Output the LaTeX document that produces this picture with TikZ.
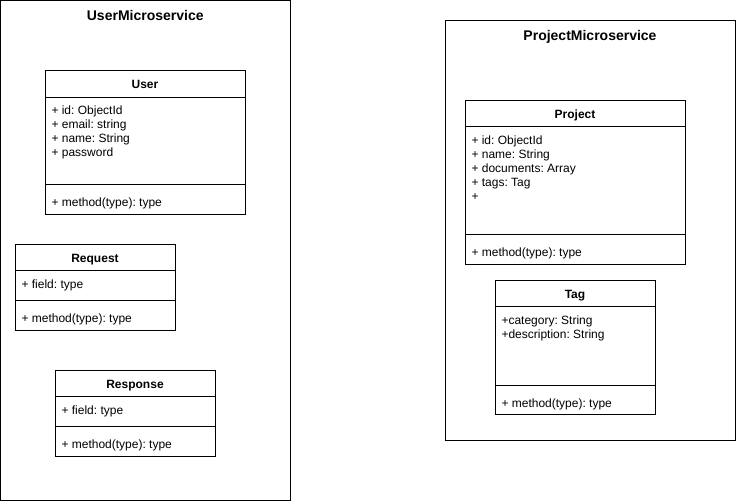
\documentclass[tikz,border=0pt]{standalone}
\usepackage{fontspec}
\setmainfont{Liberation Sans}
\usetikzlibrary{positioning}
\frenchspacing

\tikzset{every picture/.style={line width=0.75pt}}
\tikzset{
  service/.style={draw, inner sep=0pt, outer sep=0pt, anchor=north west},
  servicetitle/.style={inner sep=0pt, text height=7.6pt, text depth=2.2pt, font=\fontsize{10.5}{12}\selectfont\bfseries},
  classbox/.style={draw, inner sep=0pt, outer sep=0pt, anchor=north west, text height=9.6pt, text depth=1.9pt, font=\fontsize{9}{10.5}\selectfont\bfseries},
  compartment/.style={draw, inner sep=0pt, outer sep=0pt, below=0pt of #1},
  members/.style={anchor=north west, inner sep=0pt, align=left, font=\fontsize{9}{10.5}\selectfont},
}

\begin{document}
\begin{tikzpicture}[x=0.75pt,y=0.75pt,yscale=-1,xscale=1]
\path[use as bounding box] (0,0) rectangle (736,501);

%Shape: Rectangle [UserMicroservice]
\node[service, minimum width=217.125pt, minimum height=374.625pt] (userms) at (0.5,0.5) {};
% Text Node
\node[servicetitle] (userms title) at ([yshift=12.3pt]userms.north) {UserMicroservice};

%Shape: Class [User]
\node[classbox, minimum width=150pt, minimum height=20.25pt] (user) at (45,70) {User};
\node[compartment=user, minimum width=150pt, minimum height=65.25pt] (user attr) {};
\node[compartment=user attr, minimum width=150pt, minimum height=22.5pt] (user ops) {};
% Text Node
\node[members] (user attr text) at ([xshift=4.5pt,yshift=5.5pt]user attr.north west) {\strut+ id: ObjectId\\+ email: string\\+ name: String\\+ password};
% Text Node
\node[members] (user ops text) at ([xshift=4.5pt,yshift=9.4pt]user ops.north west) {\strut+ method(type): type};

%Shape: Class [Request]
\node[classbox, minimum width=120pt, minimum height=19.5pt] (request) at (15,244) {Request};
\node[compartment=request, minimum width=120pt, minimum height=22.5pt] (request attr) {};
\node[compartment=request attr, minimum width=120pt, minimum height=22.5pt] (request ops) {};
% Text Node
\node[members] (request attr text) at ([xshift=4.5pt,yshift=6.5pt]request attr.north west) {\strut+ field: type};
% Text Node
\node[members] (request ops text) at ([xshift=4.5pt,yshift=9.2pt]request ops.north west) {\strut+ method(type): type};

%Shape: Class [Response]
\node[classbox, minimum width=120pt, minimum height=19.5pt] (response) at (55,370) {Response};
\node[compartment=response, minimum width=120pt, minimum height=22.5pt] (response attr) {};
\node[compartment=response attr, minimum width=120pt, minimum height=22.5pt] (response ops) {};
% Text Node
\node[members] (response attr text) at ([xshift=4.5pt,yshift=6.5pt]response attr.north west) {\strut+ field: type};
% Text Node
\node[members] (response ops text) at ([xshift=4.5pt,yshift=9.2pt]response ops.north west) {\strut+ method(type): type};

%Shape: Rectangle [ProjectMicroservice]
\node[service, minimum width=217.5pt, minimum height=315pt] (projectms) at (445,20) {};
% Text Node
\node[servicetitle] (projectms title) at ([yshift=12.6pt]projectms.north) {ProjectMicroservice};

%Shape: Class [Project]
\node[classbox, minimum width=165pt, minimum height=19.5pt] (project) at (465,100) {Project};
\node[compartment=project, minimum width=165pt, minimum height=81pt] (project attr) {};
\node[compartment=project attr, minimum width=165pt, minimum height=22.5pt] (project ops) {};
% Text Node
\node[members] (project attr text) at ([xshift=4.5pt,yshift=6.3pt]project attr.north west) {\strut+ id: ObjectId\\+ name: String\\+ documents: Array\\+ tags: Tag\\+};
% Text Node
\node[members] (project ops text) at ([xshift=4.5pt,yshift=9.4pt]project ops.north west) {\strut+ method(type): type};

%Shape: Class [Tag]
\node[classbox, minimum width=120pt, minimum height=19.5pt] (tag) at (495,280) {Tag};
\node[compartment=tag, minimum width=120pt, minimum height=59.25pt] (tag attr) {};
\node[compartment=tag attr, minimum width=120pt, minimum height=21.75pt] (tag ops) {};
% Text Node
\node[members] (tag attr text) at ([xshift=4.5pt,yshift=6.5pt]tag attr.north west) {\strut+category: String\\+description: String};
% Text Node
\node[members] (tag ops text) at ([xshift=4.5pt,yshift=8.8pt]tag ops.north west) {\strut+ method(type): type};

\end{tikzpicture}
\end{document}
